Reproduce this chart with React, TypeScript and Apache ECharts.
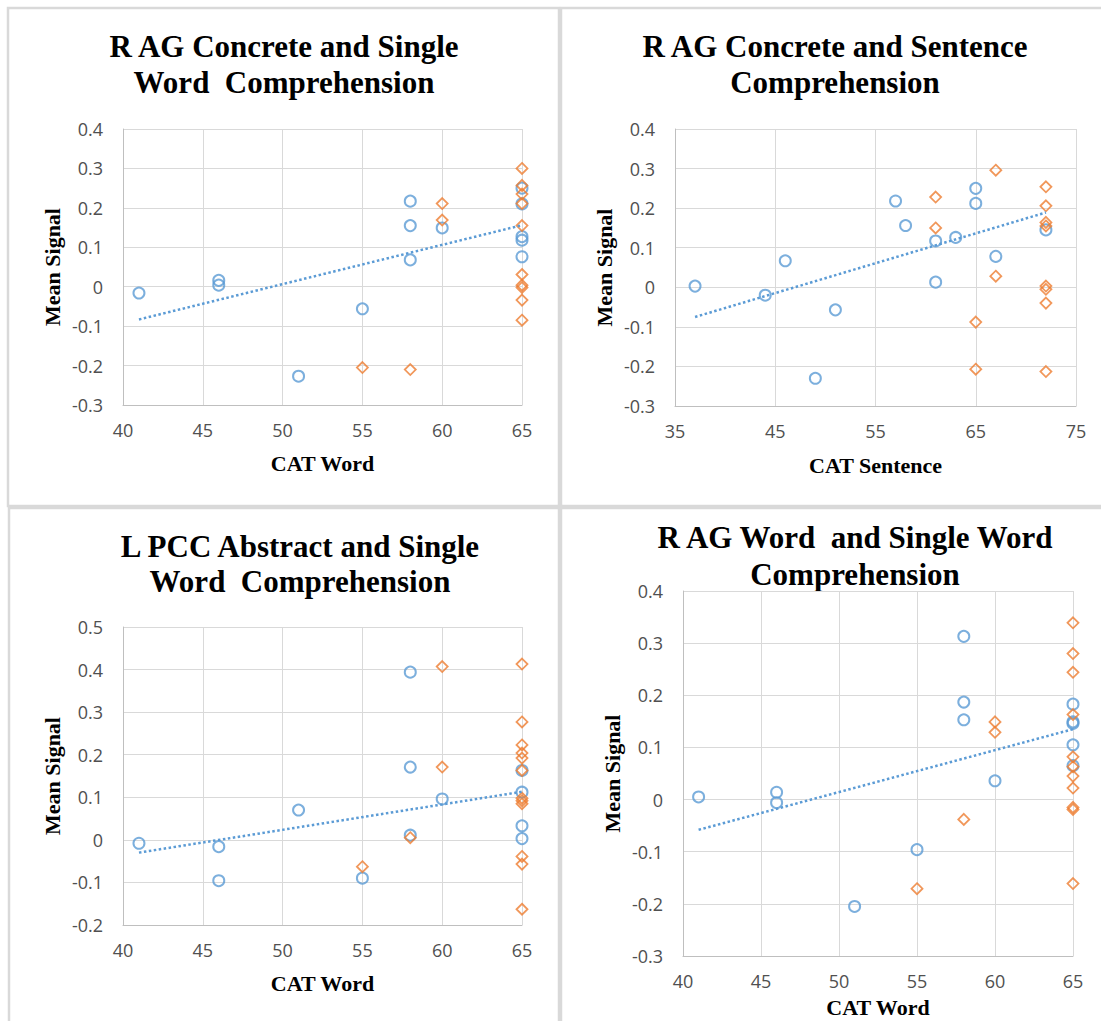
import React, { useEffect, useRef } from "react";
import * as echarts from "echarts";

// Panel 1: R AG Concrete and Single Word Comprehension
const blueX1 = [41, 46, 46, 51, 55, 58, 58, 58, 60, 65, 65, 65, 65, 65];
const blueY1 = [-0.016, 0.016, 0.004, -0.227, -0.056, 0.217, 0.155, 0.068, 0.149, 0.25, 0.21, 0.127, 0.118, 0.076];
const orangeX1 = [55, 58, 60, 60, 65, 65, 65, 65, 65, 65, 65, 65, 65, 65];
const orangeY1 = [-0.205, -0.21, 0.211, 0.169, 0.3, 0.257, 0.235, 0.211, 0.155, 0.031, 0.004, -0.002, -0.034, -0.085];
const trendX1 = [41, 65];
const trendY1 = [-0.083, 0.156];

// Panel 2: R AG Concrete and Sentence Comprehension
const blueX2 = [37, 44, 46, 49, 51, 57, 58, 61, 61, 63, 65, 65, 67, 72];
const blueY2 = [0.003, -0.02, 0.067, -0.23, -0.057, 0.218, 0.156, 0.117, 0.013, 0.126, 0.25, 0.212, 0.078, 0.145];
const orangeX2 = [61, 61, 65, 65, 67, 67, 72, 72, 72, 72, 72, 72, 72, 72];
const orangeY2 = [0.228, 0.15, -0.088, -0.207, 0.296, 0.028, 0.254, 0.206, 0.164, 0.155, 0.003, -0.005, -0.04, -0.213];
const trendX2 = [37, 72];
const trendY2 = [-0.075, 0.189];

// Panel 3: L PCC Abstract and Single Word Comprehension
const blueX3 = [41, 46, 46, 51, 55, 58, 58, 58, 60, 65, 65, 65, 65];
const blueY3 = [-0.008, -0.016, -0.096, 0.07, -0.09, 0.394, 0.171, 0.011, 0.096, 0.163, 0.112, 0.033, 0.003];
const orangeX3 = [55, 58, 60, 60, 65, 65, 65, 65, 65, 65, 65, 65, 65, 65, 65, 65];
const orangeY3 = [-0.063, 0.005, 0.407, 0.171, 0.413, 0.277, 0.223, 0.204, 0.192, 0.163, 0.098, 0.092, 0.085, -0.039, -0.057, -0.163];
const trendX3 = [41, 65];
const trendY3 = [-0.03, 0.113];

// Panel 4: R AG Word and Single Word Comprehension
const blueX4 = [41, 46, 46, 51, 55, 58, 58, 58, 60, 65, 65, 65, 65, 65];
const blueY4 = [0.005, 0.014, -0.006, -0.205, -0.096, 0.313, 0.187, 0.153, 0.036, 0.183, 0.149, 0.146, 0.105, 0.065];
const orangeX4 = [55, 58, 60, 60, 65, 65, 65, 65, 65, 65, 65, 65, 65, 65, 65];
const orangeY4 = [-0.171, -0.038, 0.149, 0.129, 0.339, 0.28, 0.244, 0.163, 0.082, 0.063, 0.045, 0.022, -0.015, -0.019, -0.161];
const trendX4 = [41, 65];
const trendY4 = [-0.058, 0.135];

const titles1 = ["R AG Concrete and Single", "Word  Comprehension"];
const titles2 = ["R AG Concrete and Sentence", "Comprehension"];
const titles3 = ["L PCC Abstract and Single", "Word  Comprehension"];
const titles4 = ["R AG Word  and Single Word", "Comprehension"];

const xNames = ["CAT Word", "CAT Sentence", "CAT Word", "CAT Word"];
const yName = "Mean Signal";

const BLUE = "#5B9BD5";
const ORANGE = "#ED7D31";
const GRID = "#d9d9d9";
const LABEL = "#505050";
const SANS = '"Open Sans", sans-serif';
const SERIF = '"Liberation Serif", "Times New Roman", serif';

const zip = (xs: number[], ys: number[]) => xs.map((x, i) => [x, ys[i]]);
const fmt = (v: number) => {
  const r = Math.round(v * 10) / 10;
  return r === 0 ? "0" : String(r);
};

const panels = [
  { bx: blueX1, by: blueY1, ox: orangeX1, oy: orangeY1, tx: trendX1, ty: trendY1, xmin: 40, xmax: 65, xint: 5, ymin: -0.3, ymax: 0.4, grid: { left: 123, top: 129, width: 399, height: 276 }, xGap: 58, titles: titles1, tcx: 284, ty1: 46, ty2: 82 },
  { bx: blueX2, by: blueY2, ox: orangeX2, oy: orangeY2, tx: trendX2, ty: trendY2, xmin: 35, xmax: 75, xint: 10, ymin: -0.3, ymax: 0.4, grid: { left: 675, top: 129, width: 401, height: 277 }, xGap: 59, titles: titles2, tcx: 835, ty1: 46, ty2: 82 },
  { bx: blueX3, by: blueY3, ox: orangeX3, oy: orangeY3, tx: trendX3, ty: trendY3, xmin: 40, xmax: 65, xint: 5, ymin: -0.2, ymax: 0.5, grid: { left: 123, top: 627, width: 399, height: 298 }, xGap: 58, titles: titles3, tcx: 300, ty1: 546, ty2: 581 },
  { bx: blueX4, by: blueY4, ox: orangeX4, oy: orangeY4, tx: trendX4, ty: trendY4, xmin: 40, xmax: 65, xint: 5, ymin: -0.3, ymax: 0.4, grid: { left: 683, top: 591, width: 390, height: 365 }, xGap: 51, titles: titles4, tcx: 855, ty1: 537, ty2: 574 },
];

export default function App() {
  const ref = useRef<HTMLDivElement>(null);
  useEffect(() => {
    if (!ref.current) return;
    const chart = echarts.init(ref.current, undefined, { renderer: "svg" });
    const grid: any[] = [];
    const xAxis: any[] = [];
    const yAxis: any[] = [];
    const series: any[] = [];
    const graphic: any[] = [];

    // panel borders
    const borders = [
      { x: 8, y: 8, w: 551, h: 498 },
      { x: 561, y: 8, w: 560, h: 498 },
      { x: 9, y: 508, w: 550, h: 530 },
      { x: 561, y: 508, w: 560, h: 530 },
    ];
    borders.forEach((b) =>
      graphic.push({
        type: "rect",
        shape: { x: b.x, y: b.y, width: b.w, height: b.h },
        style: { fill: "none", stroke: GRID, lineWidth: 2.5 },
        silent: true,
        z: 0,
      })
    );

    panels.forEach((p, i) => {
      grid.push({ ...p.grid, containLabel: false });
      xAxis.push({
        type: "value",
        gridIndex: i,
        min: p.xmin,
        max: p.xmax,
        interval: p.xint,
        name: xNames[i],
        nameLocation: "middle",
        nameGap: p.xGap,
        nameTextStyle: { fontFamily: SERIF, fontWeight: "bold", fontSize: 22, color: "#000", verticalAlign: "middle" },
        axisLine: { show: true, onZero: false, lineStyle: { color: "#bfbfbf", width: 1 } },
        axisTick: { show: false },
        splitLine: { show: true, lineStyle: { color: GRID, width: 1 } },
        axisLabel: { color: LABEL, fontSize: 18, fontFamily: SANS, margin: 16 },
      });
      yAxis.push({
        type: "value",
        gridIndex: i,
        min: p.ymin,
        max: p.ymax,
        interval: 0.1,
        name: yName,
        nameLocation: "middle",
        nameGap: 71,
        nameRotate: 90,
        nameTextStyle: { fontFamily: SERIF, fontWeight: "bold", fontSize: 22, color: "#000", verticalAlign: "middle" },
        axisLine: { show: true, onZero: false, lineStyle: { color: "#bfbfbf", width: 1 } },
        axisTick: { show: false },
        splitLine: { show: true, lineStyle: { color: GRID, width: 1 } },
        axisLabel: { color: LABEL, fontSize: 18, fontFamily: SANS, margin: 20, formatter: fmt },
      });
      series.push({
        type: "scatter",
        xAxisIndex: i,
        yAxisIndex: i,
        symbol: "circle",
        symbolSize: 11,
        data: zip(p.bx, p.by),
        itemStyle: { color: "rgba(0,0,0,0)", borderColor: BLUE, borderWidth: 2 },
        z: 3,
      });
      series.push({
        type: "scatter",
        xAxisIndex: i,
        yAxisIndex: i,
        symbol: "diamond",
        symbolSize: 11,
        data: zip(p.ox, p.oy),
        itemStyle: { color: "rgba(0,0,0,0)", borderColor: ORANGE, borderWidth: 1.8 },
        z: 3,
      });
      series.push({
        type: "line",
        xAxisIndex: i,
        yAxisIndex: i,
        data: zip(p.tx, p.ty),
        symbol: "none",
        lineStyle: { color: BLUE, width: 2.5, type: [2.5, 2.5] },
        z: 4,
      });
      p.titles.forEach((t, k) =>
        graphic.push({
          type: "text",
          x: p.tcx,
          y: k === 0 ? p.ty1 : p.ty2,
          style: {
            text: t,
            font: `bold 31px ${SERIF}`,
            fill: "#000",
            align: "center",
            verticalAlign: "middle",
          },
          silent: true,
        })
      );
    });

    chart.setOption({
      animation: false,
      backgroundColor: "#ffffff",
      grid,
      xAxis,
      yAxis,
      series,
      graphic,
    });
    return () => chart.dispose();
  }, []);
  return (
    <div
      ref={ref}
      style={{ position: "absolute", left: 0, top: 0, width: 1101, height: 1021 }}
    />
  );
}
